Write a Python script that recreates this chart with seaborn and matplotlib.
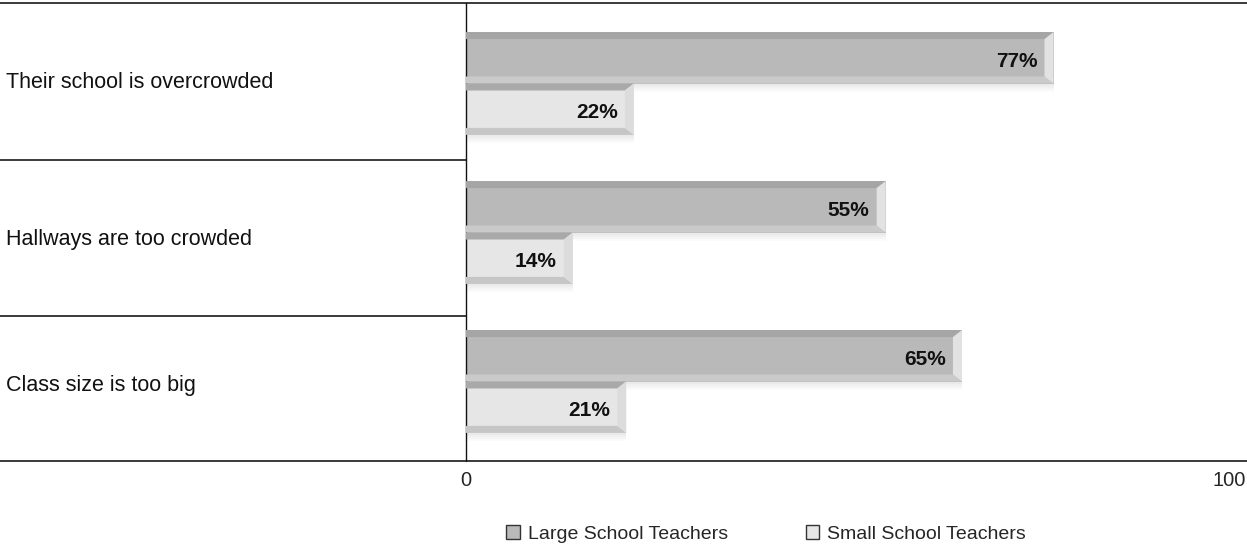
import matplotlib
matplotlib.use("Agg")
import matplotlib.pyplot as plt
import matplotlib.patches as mpatches
import matplotlib.transforms as mtransforms
import seaborn as sns
import pandas as pd

# data
items = ['Their school is overcrowded', 'Hallways are too crowded', 'Class size is too big']
groups = ['Large School Teachers', 'Small School Teachers']
large_vals = [77, 55, 65]
small_vals = [22, 14, 21]

df = pd.DataFrame({
    'item': items * 2,
    'group': [groups[0]] * 3 + [groups[1]] * 3,
    'value': large_vals + small_vals,
})

sns.set_style("white")
plt.rcParams['font.family'] = ['Liberation Sans Narrow', 'Liberation Sans', 'DejaVu Sans']

face = {groups[0]: '#b9b9b9', groups[1]: '#e6e6e6'}
top_c = {groups[0]: '#a5a5a5', groups[1]: '#a9a9a9'}
bot_c = {groups[0]: '#cacaca', groups[1]: '#c6c6c6'}
right_c = {groups[0]: '#e2e2e2', groups[1]: '#dcdcdc'}

W, H = 1247, 548
fig = plt.figure(figsize=(W / 100, H / 100), dpi=100)
ax_l, ax_r, ax_t, ax_b = 466, 1229, 3, 461
ax = fig.add_axes([ax_l / W, (H - ax_b) / H, (ax_r - ax_l) / W, (ax_b - ax_t) / H])

sns.barplot(data=df, y='item', x='value', hue='group', hue_order=groups, order=items,
            palette=face, orient='h', width=0.69, dodge=True, ax=ax, legend=False,
            edgecolor='none', linewidth=0, saturation=1)
ax.set_xlim(0, 100)
# category spacing ~149 px, first pair centred ~83 px from top
step = 149
ax.set_ylim(-80.5 / step + (ax_b - ax_t) / step, -80.5 / step)

# pixel -> data conversions
dx = 100 / (ax_r - ax_l)
dy = 1 / step
t = 7 * dy
r = 9 * dx

for cont, g in zip(ax.containers, groups):
    for bar in cont:
        x0 = bar.get_x()
        x1 = x0 + bar.get_width()
        ya = bar.get_y()
        yb = ya + bar.get_height()   # visually lower edge (y inverted)
        ax.add_patch(mpatches.Polygon([(x0, ya), (x1, ya), (x1 - r, ya + t), (x0, ya + t)],
                                      closed=True, fc=top_c[g], ec='none', zorder=3))
        ax.add_patch(mpatches.Polygon([(x0, yb), (x1, yb), (x1 - r, yb - t), (x0, yb - t)],
                                      closed=True, fc=bot_c[g], ec='none', zorder=3))
        ax.add_patch(mpatches.Polygon([(x1, ya), (x1, yb), (x1 - r, yb - t), (x1 - r, ya + t)],
                                      closed=True, fc=right_c[g], ec='none', zorder=3))
        for k, a in enumerate([0.2, 0.14, 0.09, 0.04]):
            ax.add_patch(mpatches.Rectangle((x0, yb + k * 2 * dy), bar.get_width(), 2 * dy,
                                            fc='#999999', alpha=a, ec='none', zorder=1))
        bar.set_zorder(2)

# value labels
offset = mtransforms.offset_copy(ax.transData, fig=fig, x=-16, y=0, units='dots')
for cont, vals in zip(ax.containers, [large_vals, small_vals]):
    for bar, v in zip(cont, vals):
        ax.text(bar.get_x() + bar.get_width(), bar.get_y() + bar.get_height() / 2 + 0.5 * t,
                f'{v}%', ha='right', va='center', fontsize=15, fontweight='bold',
                color='#111111', transform=offset, zorder=4)

# frame lines
ext_l = -(ax_l) / (ax_r - ax_l)
ext_r = (W - ax_l) / (ax_r - ax_l)
ah = ax_b - ax_t
for yy in [1, 0]:
    ax.plot([ext_l, ext_r], [yy, yy], transform=ax.transAxes, color='#3a3a3a', lw=1.4, clip_on=False)
for py in [160, 316]:
    yy = 1 - (py - ax_t) / ah
    ax.plot([ext_l, 0], [yy, yy], transform=ax.transAxes, color='#3a3a3a', lw=1.4, clip_on=False)
ax.plot([0, 0], [0, 1], transform=ax.transAxes, color='#111111', lw=1.0, clip_on=False)

for s in ax.spines.values():
    s.set_visible(False)

ax.set_xticks([0, 100])
ax.set_xticklabels(['0', '100'], fontsize=14.5)
ax.tick_params(axis='x', length=0, pad=7)
ax.set_yticks([])
ax.set_ylabel('')
ax.set_xlabel('')

label_y = [83, 240, 386]
for lab, py in zip(items, label_y):
    ax.text(6 / W, (H - py) / H, lab, transform=fig.transFigure,
            ha='left', va='center', fontsize=15.5, color='#111111')

handles = [mpatches.Patch(facecolor=face[g], edgecolor='#333333', linewidth=1.0, label=g) for g in groups]
fig.legend(handles=handles, loc='center', bbox_to_anchor=(766 / W, (H - 534) / H), ncol=2,
           frameon=False, fontsize=14, handlelength=0.7, handleheight=0.7,
           handletextpad=0.4, columnspacing=4.0)

fig.savefig('out.png', dpi=100)
